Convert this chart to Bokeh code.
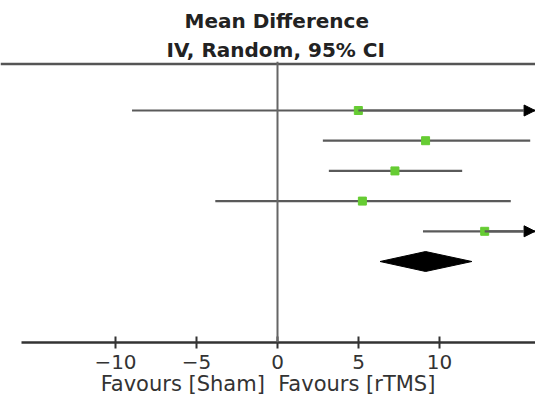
from bokeh.plotting import figure
from bokeh.models import (Range1d, Span, Title, FixedTicker, Arrow, NormalHead,
                          ColumnDataSource)
from bokeh.embed import file_html
from bokeh.resources import INLINE

# ---- data ----
study_rows = [0, 1, 2, 3, 4]
mean_diff = [4.99, 9.14, 7.25, 5.24, 12.79]
ci_lower = [-8.98, 2.80, 3.17, -3.84, 8.98]
ci_upper = [18.96, 15.60, 11.40, 14.40, 16.60]
pooled_row = 5
pooled_md = 9.14
pooled_lower = 6.33
pooled_upper = 12.00
tick_values = [-10, -5, 0, 5, 10]
tick_labels = ["\u221210", "\u22125", "0", "5", "10"]
axis_limits = [-15.8, 15.9]
title_lines = ["Mean Difference", "IV, Random, 95% CI"]
favours_label = "Favours [Sham]\u00a0\u00a0Favours [rTMS]"

FONT = "DejaVu Sans"

p = figure(width=535, height=402, output_backend="svg", toolbar_location=None,
           x_range=Range1d(-17.099, 15.926), y_range=Range1d(7.682, -1.623),
           y_axis_location=None, min_border_left=0, min_border_right=0,
           min_border_top=61, min_border_bottom=60)
p.outline_line_color = None
p.grid.visible = False
p.background_fill_color = "white"
p.border_fill_color = "white"

# titles
t2 = Title(text=title_lines[1], align="left", text_font=FONT, text_font_size="20px",
           text_font_style="bold", text_color="#222222", offset=166, standoff=0)
t1 = Title(text=title_lines[0], align="left", text_font=FONT, text_font_size="20px",
           text_font_style="bold", text_color="#222222", offset=184, standoff=6)
p.add_layout(t2, "above")
p.add_layout(t1, "above")

# top rule and zero line
p.add_layout(Span(location=-1.54, dimension="width", line_color="#555555", line_width=2.5))
p.add_layout(Span(location=0, dimension="height", line_color="#666666", line_width=2))

# CI segments (clipped to axis limits)
lim_lo, lim_hi = axis_limits
x0 = [max(v, lim_lo) for v in ci_lower]
x1 = [min(v, lim_hi) for v in ci_upper]
src = ColumnDataSource(dict(y=study_rows, md=mean_diff, x0=x0, x1=x1))
p.segment(x0="x0", y0="y", x1="x1", y1="y", source=src, line_color="#5a5a5a", line_width=2.2)

# arrows for truncated intervals
arrow_rows = [r for r, u in zip(study_rows, ci_upper) if u > lim_hi]
arrow_start = [m for m, u in zip(mean_diff, ci_upper) if u > lim_hi]
asrc = ColumnDataSource(dict(xs=arrow_start, xe=[lim_hi] * len(arrow_rows), y=arrow_rows))
p.add_layout(Arrow(end=NormalHead(size=11, fill_color="black", line_color="black"),
                   x_start="xs", y_start="y", x_end="xe", y_end="y", source=asrc,
                   line_color="#5a5a5a", line_width=2.2))

# study points
p.scatter(x="md", y="y", source=src, marker="square", size=8, fill_color="#66cc33",
          line_color="#66cc33")

# pooled diamond
half_h = 0.33
p.patch(x=[pooled_lower, pooled_md, pooled_upper, pooled_md],
        y=[pooled_row, pooled_row - half_h, pooled_row, pooled_row + half_h],
        fill_color="black", line_color="black")

# x axis
ax = p.xaxis[0]
ax.ticker = FixedTicker(ticks=tick_values)
ax.major_label_overrides = {v: s for v, s in zip(tick_values, tick_labels)}
ax.bounds = tuple(axis_limits)
ax.minor_tick_line_color = None
ax.major_tick_in = 6
ax.major_tick_out = 6
ax.major_tick_line_width = 2
ax.major_tick_line_color = "#333333"
ax.axis_line_width = 2.5
ax.axis_line_color = "#333333"
ax.major_label_text_font = FONT
ax.major_label_text_font_size = "20px"
ax.major_label_text_color = "#333333"
ax.major_label_standoff = 6
ax.axis_label = favours_label
ax.axis_label_text_font = FONT
ax.axis_label_text_font_size = "21px"
ax.axis_label_text_font_style = "normal"
ax.axis_label_text_color = "#333333"
ax.axis_label_standoff = 0

open("out.html", "w").write(file_html(p, INLINE))
